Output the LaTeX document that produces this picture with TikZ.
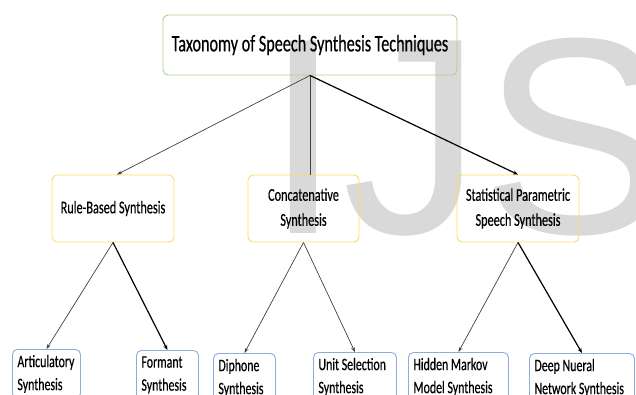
\documentclass[tikz,border=0pt]{standalone}
\usepackage{fontspec}
\setmainfont{Carlito}
\newfontfamily\narrowfont[FakeStretch=0.68, FakeBold=0.4]{Carlito}
\newfontfamily\markfont{Liberation Sans}
\usetikzlibrary{arrows.meta}
\definecolor{rootedge}{HTML}{A9D18E}
\definecolor{midedge}{HTML}{FFD966}
\definecolor{leafedge}{HTML}{8FAADC}
\definecolor{markgray}{HTML}{D9D9D9}
\definecolor{linegray}{HTML}{404040}
\begin{document}
\begin{tikzpicture}[x=1pt,y=-1pt,
  basebox/.style={draw, line width=0.9pt, rounded corners=5pt, fill=none, inner sep=0pt},
  rootbox/.style={basebox, draw=rootedge, font=\narrowfont\fontsize{23.8}{28}\selectfont},
  midbox/.style={basebox, draw=midedge, align=flush center, font=\narrowfont\fontsize{18}{25}\selectfont},
  leafbox/.style={basebox, draw=leafedge, anchor=north west, align=flush left, inner xsep=5pt,
    minimum height=49, font=\narrowfont\fontsize{17.5}{23}\selectfont},
  thinarrow/.style={draw=linegray, line width=0.7pt, -{Stealth[length=5pt,width=3.5pt]}},
  thickarrow/.style={draw=black, line width=1.2pt, -{Stealth[length=5pt,width=4pt]}},
  plainline/.style={draw=linegray, line width=0.9pt}
]
\useasboundingbox (0,0) rectangle (636,394);
\clip (0,0) rectangle (636,394);

% watermark lettering behind the tree
\node[anchor=base west, inner sep=0pt, text=markgray,
  font=\markfont\fontsize{280}{280}\selectfont] (mark) at (264,233) {IJS};

% root
\node[rootbox, minimum width=294, minimum height=60] (root) at (310,45)
  {Taxonomy of Speech Synthesis Techniques};

% second level
\node[midbox, minimum width=122, minimum height=67] (rule) at (113,208.5)
  {Rule-Based Synthesis};
\node[midbox, minimum width=111, minimum height=67] (concat) at (303.5,208.5)
  {Concatenative\\Synthesis};
\node[midbox, minimum width=122, minimum height=67] (stat) at (518,208.5)
  {Statistical Parametric\\Speech Synthesis};

% leaves
\node[leafbox, text width=58] (artic) at (12,349) {Articulatory\\Synthesis};
\node[leafbox, text width=52] (formant) at (136,350) {Formant\\Synthesis};
\node[leafbox, text width=52] (diphone) at (213,353) {Diphone\\Synthesis};
\node[leafbox, text width=73] (unitsel) at (313,352) {Unit Selection\\Synthesis};
\node[leafbox, text width=90] (hmm) at (408,352) {Hidden Markov\\Model Synthesis};
\node[leafbox, text width=95] (dnn) at (529,353) {Deep Nueral\\Network Synthesis};

% connectors
\draw[thinarrow] (root.south) -- ([xshift=4pt]rule.north);
\draw[plainline] (root.south) -- (root.south |- concat.north);
\draw[thickarrow] (root.south) -- (stat.north);

\draw[thinarrow] (rule.south) -- (artic.north);
\draw[thickarrow] (rule.south) -- (formant.north);
\draw[thinarrow] (concat.south) -- (diphone.north);
\draw[thinarrow] (concat.south) -- (unitsel.north);
\draw[thinarrow] (stat.south) -- (hmm.north);
\draw[thickarrow] (stat.south) -- (dnn.north);
\end{tikzpicture}
\end{document}
